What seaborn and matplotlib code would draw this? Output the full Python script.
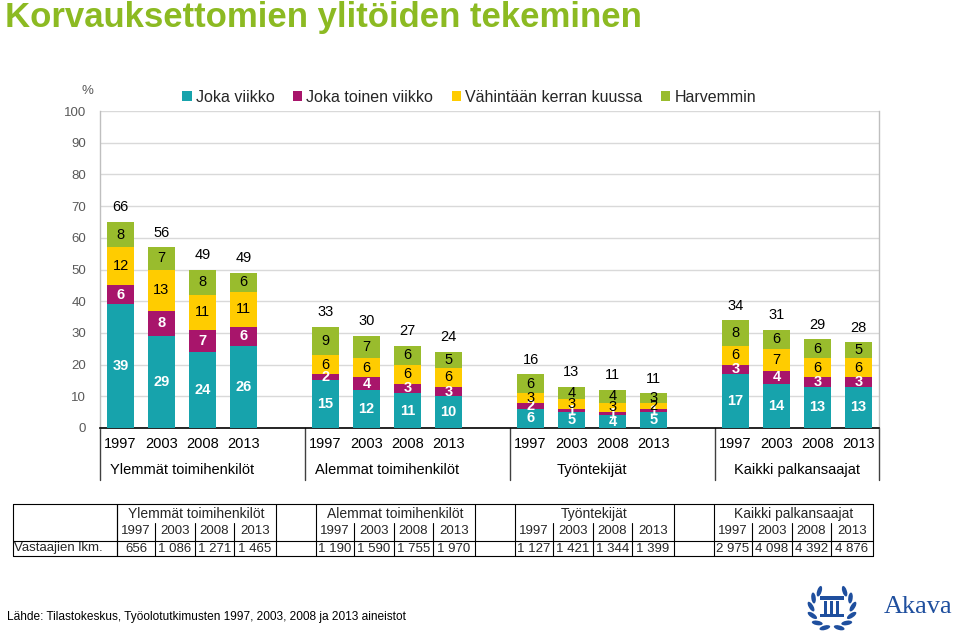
import numpy as np
import pandas as pd
import matplotlib
matplotlib.use("Agg")
import matplotlib.pyplot as plt
import matplotlib.transforms as mtrans
from matplotlib.patches import Patch, Ellipse, Rectangle
import seaborn as sns

# ---------------- data ----------------
groups = ["Ylemmät toimihenkilöt", "Alemmat toimihenkilöt", "Työntekijät", "Kaikki palkansaajat"]
years = ["1997", "2003", "2008", "2013"]
series_names = ["Joka viikko", "Joka toinen viikko", "Vähintään kerran kuussa", "Harvemmin"]

weekly   = [39, 29, 24, 26, 15, 12, 11, 10, 6, 5, 4, 5, 17, 14, 13, 13]
biweekly = [6, 8, 7, 6, 2, 4, 3, 3, 2, 1, 1, 1, 3, 4, 3, 3]
monthly  = [12, 13, 11, 11, 6, 6, 6, 6, 3, 3, 3, 2, 6, 7, 6, 6]
rarer    = [8, 7, 8, 6, 9, 7, 6, 5, 6, 4, 4, 3, 8, 6, 6, 5]
totals   = [66, 56, 49, 49, 33, 30, 27, 24, 16, 13, 11, 11, 34, 31, 29, 28]

respondents = ["656", "1 086", "1 271", "1 465",
               "1 190", "1 590", "1 755", "1 970",
               "1 127", "1 421", "1 344", "1 399",
               "2 975", "4 098", "4 392", "4 876"]

title = "Korvauksettomien ylitöiden tekeminen"
source = "Lähde: Tilastokeskus, Työolotutkimusten 1997, 2003, 2008 ja 2013 aineistot"
row_label = "Vastaajien lkm."

colors = ["#17A3AC", "#A8156B", "#FFCC00", "#99BC2D"]
label_colors = ["white", "white", "black", "black"]
label_weights = ["bold", "bold", "normal", "normal"]

# ---------------- style ----------------
sns.set_style("white")
plt.rcParams["font.family"] = ["Liberation Sans", "DejaVu Sans"]

W, H = 960, 639
fig = plt.figure(figsize=(W / 100, H / 100), dpi=100)
fig.patch.set_facecolor("white")

# overlay axes in pixel coordinates for title, table, source, logo
ov = fig.add_axes([0, 0, 1, 1])
ov.set_xlim(0, W)
ov.set_ylim(H, 0)
ov.axis("off")
ov.patch.set_alpha(0)

ax = fig.add_axes([100 / W, 1 - 428 / H, 779 / W, 317 / H])

positions = [g * 5 + i for g in range(len(groups)) for i in range(len(years))]
df = pd.DataFrame({"pos": positions, "weekly": weekly, "biweekly": biweekly,
                   "monthly": monthly, "rarer": rarer, "total": totals})
layers = ["weekly", "biweekly", "monthly", "rarer"]
cum = df[layers].cumsum(axis=1)
for k, name in enumerate(layers):
    df["cum_" + name] = cum[name]

# draw from the top layer down so the stacks show
for k in reversed(range(len(layers))):
    sns.barplot(data=df, x="pos", y="cum_" + layers[k], native_scale=True,
                color=colors[k], saturation=1, width=0.66, errorbar=None,
                edgecolor="none", linewidth=0, ax=ax, zorder=3)

# segment labels
for idx, row in df.iterrows():
    bottom = 0
    for k, name in enumerate(layers):
        v = row[name]
        ax.text(row["pos"], bottom + v / 2, str(int(v)), ha="center", va="center",
                color=label_colors[k], fontweight=label_weights[k], fontsize=10.5, zorder=5)
        bottom += v
    ax.text(row["pos"], bottom + 4.6, str(int(row["total"])), ha="center", va="center",
            color="black", fontsize=10.5, zorder=5)

ax.set_xlim(-0.5, 18.5)
ax.set_ylim(0, 100)
ax.set_yticks(range(0, 101, 10))
ax.set_xticks([])
ax.set_xlabel("")
ax.set_ylabel("")
ax.tick_params(axis="y", length=0, pad=10, labelsize=9.5, labelcolor="#595959")
ax.yaxis.grid(True, color="#D9D9D9", lw=1)
ax.set_axisbelow(True)
for s in ["left", "right"]:
    ax.spines[s].set_color("#BFBFBF")
    ax.spines[s].set_linewidth(1)
ax.spines["top"].set_visible(False)
ax.spines["bottom"].set_color("black")
ax.spines["bottom"].set_linewidth(1.2)

blend = mtrans.blended_transform_factory(ax.transData, ax.transAxes)
for g, gname in enumerate(groups):
    for i, yr in enumerate(years):
        ax.text(g * 5 + i, -16 / 317, yr, transform=blend, ha="center", va="center",
                fontsize=10.5, color="black")
    ax.text(g * 5 + 1.5, -42 / 317, gname, transform=blend, ha="center", va="center",
            fontsize=10.5, color="black")
for xs in [-0.5, 4.5, 9.5, 14.5, 18.5]:
    ax.plot([xs, xs], [0, -52 / 317], transform=blend, clip_on=False,
            color="#404040", lw=1)

handles = [Patch(facecolor=c, edgecolor="none") for c in colors]
ax.legend(handles, series_names, loc="center", bbox_to_anchor=(469 / W, 1 - 97 / H),
          bbox_transform=fig.transFigure, ncol=4, frameon=False, fontsize=11.5,
          handlelength=0.6, handleheight=0.6, handletextpad=0.25,
          columnspacing=1.15, borderaxespad=0)

ov.text(87, 91, "%", ha="center", va="center", fontsize=9.5, color="#595959")

# ---------------- title ----------------
ov.text(5, 18, title, ha="left", va="center", fontsize=25, fontweight="bold",
        color="#8CBA22")

# ---------------- table ----------------
lc = "#000000"
top, ymid, yrtop, bot = 504, 541, 523, 556
left, right = 13, 873
lw = 0.8
for yy in [top, ymid, bot]:
    ov.plot([left, right], [yy, yy], color=lc, lw=lw)
ov.plot([left, left], [top, bot], color=lc, lw=lw)
ov.plot([117, 117], [top, bot], color=lc, lw=lw)
ov.text(14, (ymid + bot) / 2, row_label, ha="left", va="center", fontsize=9.5)
for g, gname in enumerate(groups):
    s = 117 + 199 * g
    edges = [s, s + 38, s + 78, s + 117, s + 159]
    ov.plot([s, s], [top, bot], color=lc, lw=lw)
    ov.plot([s + 159, s + 159], [top, bot], color=lc, lw=lw)
    for e in edges[1:4]:
        ov.plot([e, e], [yrtop, bot], color=lc, lw=lw)
    ov.text(s + 79.5, 514, gname, ha="center", va="center", fontsize=10)
    for i in range(4):
        cx = (edges[i] + edges[i + 1]) / 2
        ov.text(cx, 531.5, years[i], ha="center", va="center", fontsize=9.5)
        ov.text(cx, (ymid + bot) / 2, respondents[g * 4 + i], ha="center", va="center",
                fontsize=9.5)

# ---------------- source ----------------
ov.text(7, 617, source, ha="left", va="center", fontsize=8.6, color="black")

# ---------------- logo ----------------
blue = "#1F4F9E"
cx, cy, r = 832, 608, 21
for ang in np.linspace(-70, 250, 14):
    a = np.deg2rad(ang)
    if 65 < ang < 115:
        continue
    ex, ey = cx + r * np.cos(a), cy - r * np.sin(a)
    ov.add_patch(Ellipse((ex, ey), 11, 4.5, angle=-(ang + 90) + 35 * np.sign(np.cos(a)),
                         facecolor=blue, edgecolor="none"))
ov.add_patch(Rectangle((820, 596), 24, 4, facecolor=blue, edgecolor="none"))
for px in [824, 830, 836]:
    ov.add_patch(Rectangle((px, 601), 3, 13, facecolor=blue, edgecolor="none"))
ov.add_patch(Rectangle((820, 614), 24, 3, facecolor=blue, edgecolor="none"))
ov.text(884, 607, "Akava", ha="left", va="center", fontsize=19,
        family=["Liberation Serif", "DejaVu Serif"], color=blue)

fig.savefig("out.png", dpi=100, facecolor="white")
